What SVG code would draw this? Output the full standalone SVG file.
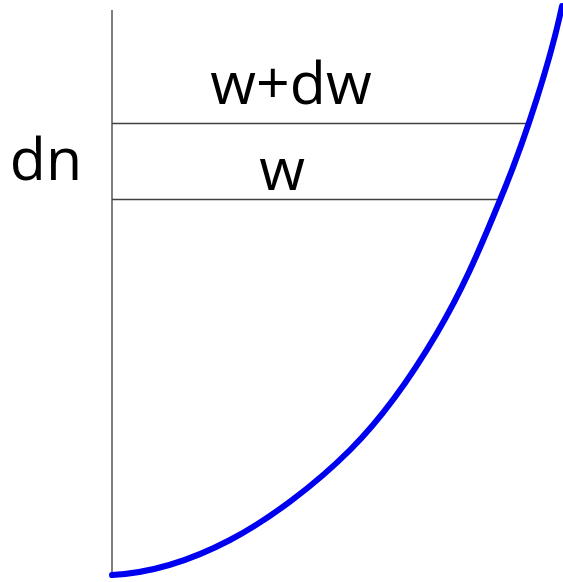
<svg xmlns="http://www.w3.org/2000/svg" width="563" height="582" viewBox="0 0 563 582">
<style>
.lbl{font-family:"Open Sans","Liberation Sans",sans-serif;font-size:59px;fill:#000}
.ax{stroke:#7f7f7f;stroke-width:2;fill:none}
.hl{stroke:#404040;stroke-width:1.5;fill:none}
.crv{stroke:#0000f0;stroke-width:6;fill:none;stroke-linecap:round}
</style>
<rect width="563" height="582" fill="#fff"/>
<g id="connectors">
<line class="ax" x1="112" y1="10" x2="112" y2="575"/>
<line class="hl" x1="112" y1="123.5" x2="529" y2="123.5"/>
<line class="hl" x1="112" y1="199.5" x2="497" y2="199.5"/>
<path id="curve" class="crv" d="M112,575 C150,573 190.3,560.8 230,540 C269.7,519.2 315.5,484.5 350,450 C384.5,415.5 412.5,374.7 437,333 C461.5,291.3 477.5,255 500,200 C526,138 551,58 562,6"/>
</g>
<g id="label-wdw"><text class="lbl" x="291" y="104" text-anchor="middle">w+dw</text></g>
<g id="label-dn"><text class="lbl" x="46" y="180" text-anchor="middle">dn</text></g>
<g id="label-w"><text class="lbl" x="282" y="190" text-anchor="middle">w</text></g>
</svg>
